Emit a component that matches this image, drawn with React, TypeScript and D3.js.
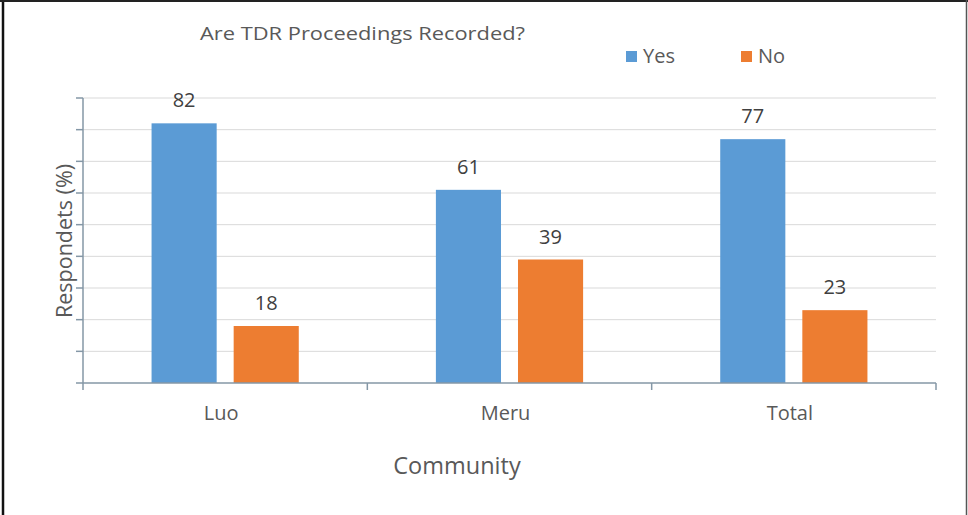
import React from "react";
import * as d3 from "d3";

const categories = ["Luo", "Meru", "Total"];
const seriesNames = ["Yes", "No"];
const yesValues = [82, 61, 77];
const noValues = [18, 39, 23];
const yTicks = [0, 10, 20, 30, 40, 50, 60, 70, 80, 90];

const title = "Are TDR Proceedings Recorded?";
const yTitle = "Respondets (%)";
const xTitle = "Community";

const W = 968;
const H = 515;
const colors = ["#5b9bd5", "#ed7d31"];
const textColor = "#595959";
const font = "'Open Sans', 'Noto Sans', sans-serif";

export default function App() {
  const plot = { left: 83, right: 936, top: 98, bottom: 383 };

  const x = d3.scaleBand<string>().domain(categories).range([plot.left, plot.right]).padding(0);
  const inner = d3
    .scaleBand<string>()
    .domain(seriesNames)
    .range([0, x.bandwidth()])
    .paddingInner(0.207)
    .paddingOuter(0.835);
  const y = d3.scaleLinear().domain([0, 90]).range([plot.bottom, plot.top]);

  const series = [yesValues, noValues];

  return (
    <svg
      width={W}
      height={H}
      style={{ position: "absolute", left: 0, top: 0, background: "#fff" }}
      fontFamily={font}
    >
      <rect x={0} y={0} width={W} height={H} fill="#fff" />
      {/* frame */}
      <line x1={3} y1={0} x2={3} y2={H} stroke="#111" strokeWidth={2.5} />
      <line x1={0} y1={1} x2={W} y2={1} stroke="#222" strokeWidth={2} />
      <line x1={966.5} y1={0} x2={966.5} y2={H} stroke="#555" strokeWidth={1.5} />

      {/* gridlines */}
      {yTicks.slice(1).map((t) => (
        <line key={t} x1={plot.left} x2={plot.right} y1={y(t)} y2={y(t)} stroke="#d9d9d9" strokeWidth={1} />
      ))}

      {/* bars */}
      {categories.map((c, i) =>
        seriesNames.map((s, j) => {
          const v = series[j][i];
          const bx = (x(c) as number) + (inner(s) as number);
          return (
            <g key={c + s}>
              <rect x={bx} y={y(v)} width={inner.bandwidth()} height={y(0) - y(v)} fill={colors[j]} />
              <text
                x={bx + inner.bandwidth() / 2}
                y={y(v) - 16}
                textAnchor="middle"
                fontSize={20}
                fill="#404040"
              >
                {v}
              </text>
            </g>
          );
        })
      )}

      {/* y axis */}
      <line x1={plot.left} x2={plot.left} y1={plot.top} y2={plot.bottom} stroke="#8497a6" strokeWidth={1.5} />
      {yTicks.map((t) => (
        <line key={t} x1={plot.left - 7} x2={plot.left} y1={y(t)} y2={y(t)} stroke="#8497a6" strokeWidth={1.5} />
      ))}

      {/* x axis */}
      <line x1={plot.left} x2={plot.right} y1={plot.bottom} y2={plot.bottom} stroke="#8497a6" strokeWidth={1.5} />
      {[...categories.map((c) => x(c) as number), plot.right].map((px, k) => (
        <line key={k} x1={px} x2={px} y1={plot.bottom} y2={plot.bottom + 7} stroke="#8497a6" strokeWidth={1.5} />
      ))}
      {categories.map((c) => (
        <text
          key={c}
          x={(x(c) as number) + x.bandwidth() / 2 - 4}
          y={420}
          textAnchor="middle"
          fontSize={20}
          fill={textColor}
        >
          {c}
        </text>
      ))}

      {/* axis titles */}
      <text x={457} y={474} textAnchor="middle" fontSize={23.5} fill={textColor}>
        {xTitle}
      </text>
      <text
        transform={`translate(72, ${241}) rotate(-90)`}
        textAnchor="middle"
        fontSize={21.5}
        fill={textColor}
      >
        {yTitle}
      </text>

      {/* chart title */}
      <text
        x={200}
        y={40}
        fontSize={19}
        fill={textColor}
        textLength={325}
        lengthAdjust="spacingAndGlyphs"
      >
        {title}
      </text>

      {/* legend */}
      {seriesNames.map((s, j) => {
        const lx = j === 0 ? 626 : 741;
        return (
          <g key={s}>
            <rect x={lx} y={51} width={11} height={11} fill={colors[j]} />
            <text x={lx + 17} y={63} fontSize={20} fill={textColor}>
              {s}
            </text>
          </g>
        );
      })}
    </svg>
  );
}
